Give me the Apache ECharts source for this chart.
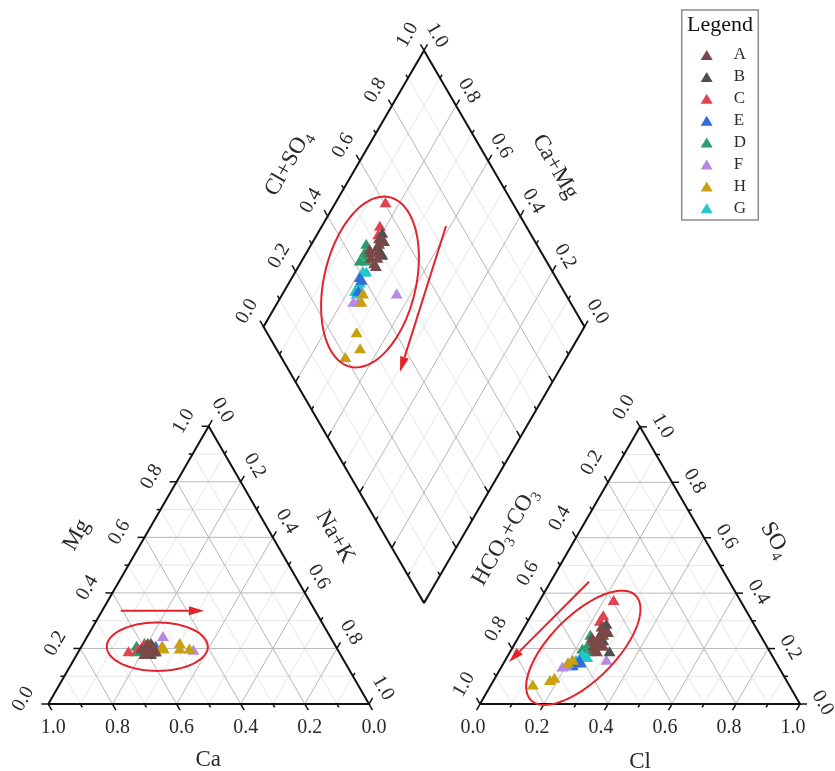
<!DOCTYPE html>
<html><head><meta charset="utf-8">
<script src="https://cdn.jsdelivr.net/npm/echarts@6/dist/echarts.min.js"></script>
<style>html,body{margin:0;padding:0;background:#fff}#c{width:835px;height:771px}</style>
</head><body><div id="c"></div><script>
// ---------------- DATA ----------------
// legend order
const groups = ['A','B','C','E','D','F','H','G'];
// each row: [Mg, Na+K, SO4, Cl]  (meq fractions; Ca = 1-Mg-(Na+K), HCO3+CO3 = 1-SO4-Cl)
const samplesA = [
  [0.20,0.20,0.27,0.25],[0.19,0.21,0.25,0.26],[0.21,0.22,0.24,0.25],[0.20,0.23,0.22,0.26],
  [0.18,0.21,0.21,0.25],[0.22,0.20,0.23,0.24],[0.19,0.24,0.20,0.26],[0.21,0.22,0.26,0.27],
  [0.20,0.19,0.24,0.23],[0.19,0.23,0.19,0.27],[0.22,0.21,0.28,0.24],[0.20,0.22,0.21,0.28]
];
const samplesB = [
  [0.20,0.22,0.27,0.26],[0.19,0.24,0.19,0.31],[0.21,0.21,0.23,0.27],[0.18,0.23,0.25,0.25],[0.20,0.20,0.29,0.25]
];
const samplesC = [
  [0.19,0.155,0.375,0.23],[0.20,0.18,0.32,0.225],[0.215,0.19,0.30,0.225]
];
const samplesE = [
  [0.20,0.22,0.15,0.24],[0.21,0.23,0.14,0.22],[0.20,0.21,0.16,0.23]
];
const samplesD = [
  [0.21,0.17,0.25,0.22],[0.20,0.18,0.20,0.22],[0.22,0.19,0.21,0.24],[0.19,0.18,0.22,0.23],[0.21,0.20,0.19,0.25]
];
const samplesF = [
  [0.245,0.235,0.135,0.19],[0.21,0.25,0.14,0.20],[0.195,0.355,0.16,0.315]
];
const samplesH = [
  [0.21,0.25,0.16,0.21],[0.20,0.26,0.15,0.20],[0.22,0.30,0.095,0.185],[0.20,0.34,0.087,0.175],[0.20,0.31,0.07,0.13]
];
const samplesG = [
  [0.20,0.22,0.17,0.25],[0.21,0.22,0.16,0.22],[0.20,0.23,0.15,0.22],[0.19,0.23,0.14,0.21],[0.21,0.22,0.15,0.20],[0.20,0.21,0.18,0.23]
];
const tickValues = [0,0.1,0.2,0.3,0.4,0.5,0.6,0.7,0.8,0.9,1.0];
const tickLabels = ['0.0','0.2','0.4','0.6','0.8','1.0'];

// ---------------- STYLE / LAYOUT ----------------
const samplesByGroup = {A:samplesA,B:samplesB,C:samplesC,E:samplesE,D:samplesD,F:samplesF,H:samplesH,G:samplesG};
const colors = {A:'#7b4848',B:'#4f4f4f',C:'#e2434e',E:'#2f6fd6',D:'#2e9a70',F:'#b58ae6',H:'#c9a00e',G:'#22c7c7'};
const drawOrder = ['D','G','E','F','H','C','B','A'];
const SERIF = '"Liberation Serif","Times New Roman",serif';
const TXT = '#2a2a2a';
const S3 = Math.sqrt(3)/2;
function mkTri(x,y,side){return {bl:[x,y],br:[x+side,y],ap:[x+side/2,y-side*S3]};}
const LT = mkTri(48.3,704,320.7);   // corners: Ca, Na+K, Mg
const RT = mkTri(480,704,320);      // corners: HCO3+CO3, Cl, SO4
const DM = {b:[424,603],hw:160.5,hh:276.3};
function bary(T,w){const P=[T.bl,T.br,T.ap];return [w[0]*P[0][0]+w[1]*P[1][0]+w[2]*P[2][0], w[0]*P[0][1]+w[1]*P[1][1]+w[2]*P[2][1]];}
function dia(c,a){return [DM.b[0]+DM.hw*(a-c), DM.b[1]-DM.hh*(a+c)];}
function leftPt(r){return bary(LT,[1-r[0]-r[1], r[1], r[0]]);}
function rightPt(r){return bary(RT,[1-r[2]-r[3], r[3], r[2]]);}
function diaPt(r){return dia(1-r[1], r[2]+r[3]);}

const majorGrid=[], minorGrid=[], ticks=[], outlines=[], graphics=[];
function label(x,y,text,rot,size){
  graphics.push({type:'text',x:x,y:y,rotation:rot*Math.PI/180,silent:true,z:50,
    style:{text:text,fontFamily:SERIF,fontSize:size||20,fill:TXT,align:'center',verticalAlign:'middle',textAlign:'center',textVerticalAlign:'middle'}});
}
function triGrid(T){
  for(let k=1;k<=9;k++){const t=k/10;
    for(let i=0;i<3;i++){const j=(i+1)%3,m=(i+2)%3;
      const w1=[0,0,0],w2=[0,0,0];w1[i]=t;w1[j]=1-t;w2[i]=t;w2[m]=1-t;
      (k%2===0?majorGrid:minorGrid).push({coords:[bary(T,w1),bary(T,w2)]});}}
  outlines.push({coords:[T.bl,T.br,T.ap,T.bl]});
}
function triAxis(T,i,z,o,off,rot){
  const wa=[0,0,0];wa[i]=0.5;wa[o]=0.5;const wb=[0,0,0];wb[i]=0.5;wb[z]=0.5;
  const pa=bary(T,wa),pb=bary(T,wb);let dx=pa[0]-pb[0],dy=pa[1]-pb[1];const n=Math.hypot(dx,dy);dx/=n;dy/=n;
  tickValues.forEach((v,k)=>{const w=[0,0,0];w[i]=v;w[o]=1-v;const p=bary(T,w);const len=k%2===0?7:4;
    ticks.push({coords:[p,[p[0]+dx*len,p[1]+dy*len]]});
    if(k%2===0) label(p[0]+off[0],p[1]+off[1],tickLabels[k/2],rot);});
}
triGrid(LT);triGrid(RT);
triAxis(LT,0,2,1,[5,24],0); triAxis(LT,2,1,0,[-25,-5],60); triAxis(LT,1,0,2,[14,-16],-60);
triAxis(RT,1,2,0,[-7,24],0); triAxis(RT,2,0,1,[22.5,-1],-60); triAxis(RT,0,1,2,[-16,-19.5],60);
// diamond
for(let k=1;k<=9;k++){const t=k/10;const arr=k%2===0?majorGrid:minorGrid;
  arr.push({coords:[dia(t,0),dia(t,1)]});arr.push({coords:[dia(0,t),dia(1,t)]});}
outlines.push({coords:[dia(0,0),dia(1,0),dia(1,1),dia(0,1),dia(0,0)]});
(function(){
  const n=Math.hypot(DM.hw,DM.hh);const ul=[-DM.hw/n,-DM.hh/n],ur=[DM.hw/n,-DM.hh/n];
  tickValues.forEach((v,k)=>{const len=k%2===0?7:4;
    let p=dia(1,v);ticks.push({coords:[p,[p[0]+ul[0]*len,p[1]+ul[1]*len]]});
    if(k%2===0)label(p[0]-16.5,p[1]-15.3,tickLabels[k/2],60);
    p=dia(v,1);ticks.push({coords:[p,[p[0]+ur[0]*len,p[1]+ur[1]*len]]});
    if(k%2===0)label(p[0]+13,p[1]-15,tickLabels[k/2],-60);
    p=dia(v,0);ticks.push({coords:[p,[p[0]+ur[0]*len,p[1]+ur[1]*len]]});
    p=dia(0,v);ticks.push({coords:[p,[p[0]+ul[0]*len,p[1]+ul[1]*len]]});
  });
})();

// axis titles
function title(x,y,rich,rot){
  graphics.push({type:'text',x:x,y:y,rotation:rot*Math.PI/180,silent:true,z:50,
    style:{text:rich,align:'center',verticalAlign:'middle',textAlign:'center',textVerticalAlign:'middle',
      rich:{n:{fontFamily:SERIF,fontSize:23,fill:TXT,lineHeight:30,verticalAlign:'middle'},
            s:{fontFamily:SERIF,fontSize:15,fill:TXT,lineHeight:15,verticalAlign:'bottom'}}}});
}
title(208.3,760,'{n|Ca}',0);
title(76.7,535,'{n|Mg}',60);
title(335,536.7,'{n|Na+K}',-60);
title(640,761.7,'{n|Cl}',0);
title(505,536.7,'{n|HCO}{s|3}{n|+CO}{s|3}',60);
title(775,540,'{n|SO}{s|4}',-60);
title(288.3,163.3,'{n|Cl+SO}{s|4}',60);
title(555,166.7,'{n|Ca+Mg}',-60);

// legend frame and title
graphics.push({type:'rect',shape:{x:681.7,y:10,width:76.6,height:210},style:{fill:'#fff',stroke:'#8a8a8a',lineWidth:1.5},z:1,silent:true});
graphics.push({type:'text',x:720,y:25,silent:true,z:50,style:{text:'Legend',fontFamily:SERIF,fontSize:22,fill:'#111',align:'center',verticalAlign:'middle',textAlign:'center',textVerticalAlign:'middle'}});

// red annotations
const RED='#e3232b';
function ellipse(cx,cy,a,b,ux,uy){const pts=[];const vx=-uy,vy=ux;
  for(let k=0;k<120;k++){const t=k/120*2*Math.PI;pts.push([cx+a*Math.cos(t)*ux+b*Math.sin(t)*vx, cy+a*Math.cos(t)*uy+b*Math.sin(t)*vy]);}
  graphics.push({type:'polygon',shape:{points:pts},style:{fill:'none',stroke:RED,lineWidth:2},z:40,silent:true});}
function arrow(x1,y1,x2,y2){const dx=x2-x1,dy=y2-y1,n=Math.hypot(dx,dy),ux=dx/n,uy=dy/n,L=15,W=4.5;
  const bx=x2-ux*L,by=y2-uy*L;
  graphics.push({type:'line',shape:{x1:x1,y1:y1,x2:bx,y2:by},style:{stroke:RED,lineWidth:2},z:40,silent:true});
  graphics.push({type:'polygon',shape:{points:[[x2,y2],[bx-uy*W,by+ux*W],[bx+uy*W,by-ux*W]]},style:{fill:RED},z:40,silent:true});}
ellipse(157.3,646.7,50.5,24.2,1,0);
ellipse(583.3,647.8,74,32.5,Math.SQRT1_2,-Math.SQRT1_2);
ellipse(370,282,87,46,Math.sin(13*Math.PI/180),-Math.cos(13*Math.PI/180));
arrow(120.7,610.7,204,610.7);
arrow(589,581.7,509,662);
arrow(446,226,400,371.7);

// ---------------- CHART ----------------
const lineSeries=(data,color,width,z)=>({type:'lines',coordinateSystem:'cartesian2d',polyline:true,silent:true,z:z,
  data:data,lineStyle:{color:color,width:width,opacity:1},effect:{show:false},animation:false});
const series=[
  lineSeries(minorGrid,'#e6e6e6',1,1),
  lineSeries(majorGrid,'#b8b8b8',1,2),
  lineSeries(ticks,'#111',1.5,3),
  lineSeries(outlines,'#111',2,4)
];
drawOrder.forEach(g=>{
  const d=[];samplesByGroup[g].forEach(r=>{d.push(leftPt(r));d.push(rightPt(r));d.push(diaPt(r));});
  series.push({type:'scatter',name:g,data:d,symbol:'triangle',symbolSize:[12,10],z:10,
    itemStyle:{color:colors[g],opacity:1},emphasis:{disabled:true},animation:false});
});
const chart=echarts.init(document.getElementById('c'),null,{renderer:'canvas'});
chart.setOption({
  backgroundColor:'#fff',animation:false,
  grid:{left:0,right:0,top:0,bottom:0},
  xAxis:{type:'value',min:0,max:835,show:false},
  yAxis:{type:'value',min:0,max:771,inverse:true,show:false},
  legend:{data:groups,orient:'vertical',left:695.7,top:41,itemWidth:12,itemHeight:10,itemGap:3.9,icon:'triangle',
    selectedMode:false,z:20,textStyle:{fontFamily:SERIF,fontSize:17,color:TXT,lineHeight:18,padding:[0,0,0,16]}},
  graphic:{elements:graphics},
  series:series
});
</script></body></html>
